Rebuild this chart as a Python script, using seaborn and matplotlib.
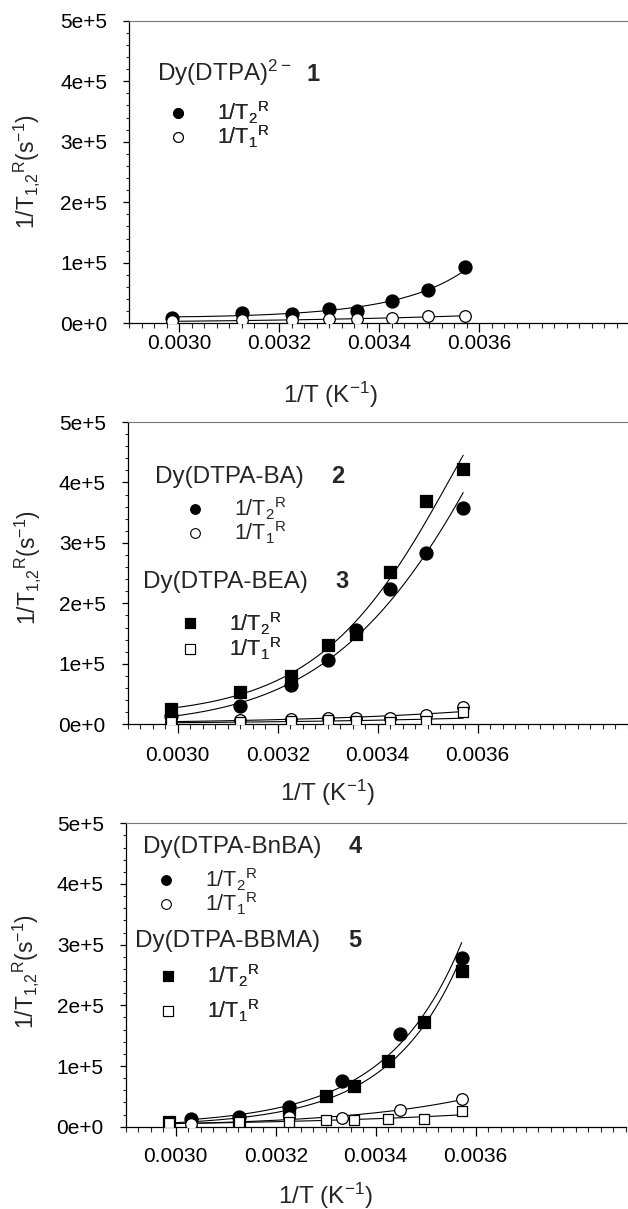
import numpy as np
import matplotlib
matplotlib.use("Agg")
import matplotlib.pyplot as plt
import seaborn as sns
from matplotlib.lines import Line2D
from matplotlib.ticker import MultipleLocator, FixedLocator, FixedFormatter

# ---------------- data ----------------
# Panel 1: Dy(DTPA)2-
x_p1 = [0.002985, 0.003125, 0.003226, 0.003300, 0.003356, 0.003425, 0.003497, 0.003571]
dtpa_r2 = [9.4e3, 16.5e3, 16.0e3, 23.0e3, 21.0e3, 37.0e3, 55.0e3, 93.5e3]
dtpa_r1 = [3.0e3, 5.5e3, 5.5e3, 6.5e3, 7.0e3, 8.0e3, 12.0e3, 12.5e3]

# Panel 2: Dy(DTPA-BA) (circles), Dy(DTPA-BEA) (squares)
x_p2 = [0.002986, 0.003125, 0.003226, 0.003300, 0.003356, 0.003425, 0.003497, 0.003571]
ba_r2 = [14.0e3, 31.0e3, 65.0e3, 106.0e3, 156.0e3, 223.0e3, 284.0e3, 357.0e3]
ba_r1 = [4.5e3, 7.0e3, 8.0e3, 11.0e3, 10.5e3, 10.5e3, 16.0e3, 29.0e3]
bea_r2 = [26.0e3, 53.0e3, 80.0e3, 131.0e3, 150.0e3, 252.0e3, 370.0e3, 422.0e3]
bea_r1 = [3.0e3, 3.0e3, 5.5e3, 7.0e3, 5.0e3, 4.5e3, 5.5e3, 20.0e3]

# Panel 3: Dy(DTPA-BnBA) (circles), Dy(DTPA-BBMA) (squares)
x_bnba = [0.003030, 0.003126, 0.003227, 0.003332, 0.003449, 0.003572]
bnba_r2 = [13.5e3, 16.0e3, 32.0e3, 76.0e3, 152.0e3, 278.0e3]
bnba_r1 = [5.0e3, 8.0e3, 16.0e3, 14.0e3, 28.0e3, 45.0e3]
x_bbma = [0.002986, 0.003126, 0.003227, 0.003300, 0.003357, 0.003424, 0.003497, 0.003572]
bbma_r2 = [7.0e3, 11.0e3, 27.0e3, 51.0e3, 67.0e3, 109.0e3, 173.0e3, 256.0e3]
bbma_r1 = [5.5e3, 7.0e3, 8.0e3, 11.0e3, 11.0e3, 13.5e3, 13.0e3, 26.0e3]

xtick_vals = [0.0030, 0.0032, 0.0034, 0.0036]
xtick_labels = ["0.0030", "0.0032", "0.0034", "0.0036"]
ytick_vals = [0, 1e5, 2e5, 3e5, 4e5, 5e5]
ytick_labels = ["0e+0", "1e+5", "2e+5", "3e+5", "4e+5", "5e+5"]

# ---------------- style ----------------
sns.set_theme(style="ticks")
plt.rcParams["font.family"] = ["Liberation Sans", "DejaVu Sans"]
plt.rcParams["mathtext.default"] = "regular"

W, H = 628, 1209
fig = plt.figure(figsize=(W / 100, H / 100), dpi=100)


def make_axes(left, top, bottom):
    return fig.add_axes([left / W, 1 - bottom / H, 500 / W, (bottom - top) / H])


ax1 = make_axes(129.0, 20.7, 323.3)
ax2 = make_axes(127.7, 422.0, 724.3)
ax3 = make_axes(125.7, 823.3, 1126.7)


def style_axes(ax, xpad, xlab_xy, ylab_xy):
    ax.set_xlim(0.0029, 0.0039)
    ax.set_ylim(0, 5e5)
    ax.xaxis.set_major_locator(FixedLocator(xtick_vals))
    ax.xaxis.set_major_formatter(FixedFormatter(xtick_labels))
    ax.xaxis.set_minor_locator(MultipleLocator(0.000025))
    ax.yaxis.set_major_locator(FixedLocator(ytick_vals))
    ax.yaxis.set_major_formatter(FixedFormatter(ytick_labels))
    ax.yaxis.set_minor_locator(MultipleLocator(2e4))
    ax.tick_params(axis="x", which="major", direction="out", length=6.5, width=0.9,
                   labelsize=15, pad=xpad, colors="black")
    ax.tick_params(axis="x", which="minor", direction="out", length=3.6, width=0.8)
    ax.tick_params(axis="y", which="major", direction="out", length=4.3, width=0.9,
                   labelsize=15, pad=11.5, colors="black")
    ax.tick_params(axis="y", which="minor", direction="out", length=2.4, width=0.8)
    ax.spines["right"].set_visible(False)
    ax.spines["top"].set_color("#777777")
    ax.spines["top"].set_linewidth(0.8)
    for s in ("left", "bottom"):
        ax.spines[s].set_color("black")
        ax.spines[s].set_linewidth(0.9)
    ax.set_xlabel("1/T (K$^{-1}$)", fontsize=17.5, va="center")
    ax.xaxis.set_label_coords(*xlab_xy)
    ax.set_ylabel("1/T$_{1{,}2}$$^{R}$(s$^{-1}$)", fontsize=16.5, va="center")
    ax.yaxis.set_label_coords(*ylab_xy)
    ax.grid(False)


def fit_curve(x, y, deg):
    x = np.asarray(x)
    y = np.asarray(y)
    xs = np.linspace(x.min(), x.max(), 200)
    c = np.polyfit(x, np.log(y), deg)
    return xs, np.exp(np.polyval(c, xs))


def series(ax, x, y, marker, filled, deg, size):
    xs, ys = fit_curve(x, y, deg)
    sns.lineplot(x=xs, y=ys, ax=ax, color="black", linewidth=0.8, zorder=2)
    sns.scatterplot(x=x, y=y, ax=ax, marker=marker, s=size,
                    color="black" if filled else "white", edgecolor="black",
                    linewidth=0.9, zorder=3, legend=False)


C_FILL, C_OPEN, S_FILL, S_OPEN = 88, 70, 64, 52

series(ax1, x_p1, dtpa_r2, "o", True, 2, C_FILL)
series(ax1, x_p1, dtpa_r1, "o", False, 1, C_OPEN)

series(ax2, x_p2, bea_r2, "s", True, 3, S_FILL)
series(ax2, x_p2, ba_r2, "o", True, 2, C_FILL)
series(ax2, x_p2, ba_r1, "o", False, 1, C_OPEN)
series(ax2, x_p2, bea_r1, "s", False, 1, S_OPEN)

series(ax3, x_bnba, bnba_r2, "o", True, 2, C_FILL)
series(ax3, x_bbma, bbma_r2, "s", True, 2, S_FILL)
series(ax3, x_bnba, bnba_r1, "o", False, 1, C_OPEN)
series(ax3, x_bbma, bbma_r1, "s", False, 1, S_OPEN)

style_axes(ax1, 1.0, (0.402, -0.237), (-0.204, 0.503))
style_axes(ax2, 9.0, (0.399, -0.227), (-0.200, 0.520))
style_axes(ax3, 8.0, (0.399, -0.228), (-0.201, 0.510))


def handle(marker, filled, ms):
    return Line2D([], [], marker=marker, linestyle="none", markersize=ms,
                  markerfacecolor="black" if filled else "white",
                  markeredgecolor="black", markeredgewidth=0.8)


def title(ax, x, y, name, num):
    ax.text(x, y, name, transform=ax.transAxes, fontsize=17.5, va="baseline", ha="left")
    ax.text(y=y, x=num[1], s=num[0], transform=ax.transAxes, fontsize=17,
            fontweight="bold", va="baseline", ha="center")


def legend(ax, mk, anchor, spacing, lab2):
    hs = [handle(mk, True, 7), handle(mk, False, 7)]
    labs = ["1/T$_2$$^R$", lab2]
    leg = ax.legend(hs, labs, loc="upper left", bbox_to_anchor=anchor, frameon=False,
                    fontsize=15.5, handlelength=1.0, handletextpad=1.33,
                    labelspacing=spacing, borderpad=0, borderaxespad=0)
    ax.add_artist(leg)


title(ax1, 0.056, 0.800, "Dy(DTPA)$^{2-}$", ("1", 0.368))
legend(ax1, "o", (0.076, 0.738), -0.12, "1/T$_1$$^R$")

title(ax2, 0.055, 0.798, "Dy(DTPA-BA)", ("2", 0.421))
legend(ax2, "o", (0.113, 0.757), -0.12, "1/T$_1$$^R$")
title(ax2, 0.031, 0.451, "Dy(DTPA-BEA)", ("3", 0.429))
legend(ax2, "s", (0.103, 0.378), -0.06, "1/T$_1$$^R$")

title(ax3, 0.035, 0.902, "Dy(DTPA-BnBA)", ("4", 0.459))
legend(ax3, "o", (0.059, 0.857), -0.12, "1/T$_1$$^R$")
title(ax3, 0.019, 0.592, "Dy(DTPA-BBMA)", ("5", 0.459))
legend(ax3, "s", (0.063, 0.540), 0.40, "1/T$_1$$^R$")

fig.savefig("out.png", dpi=100)
